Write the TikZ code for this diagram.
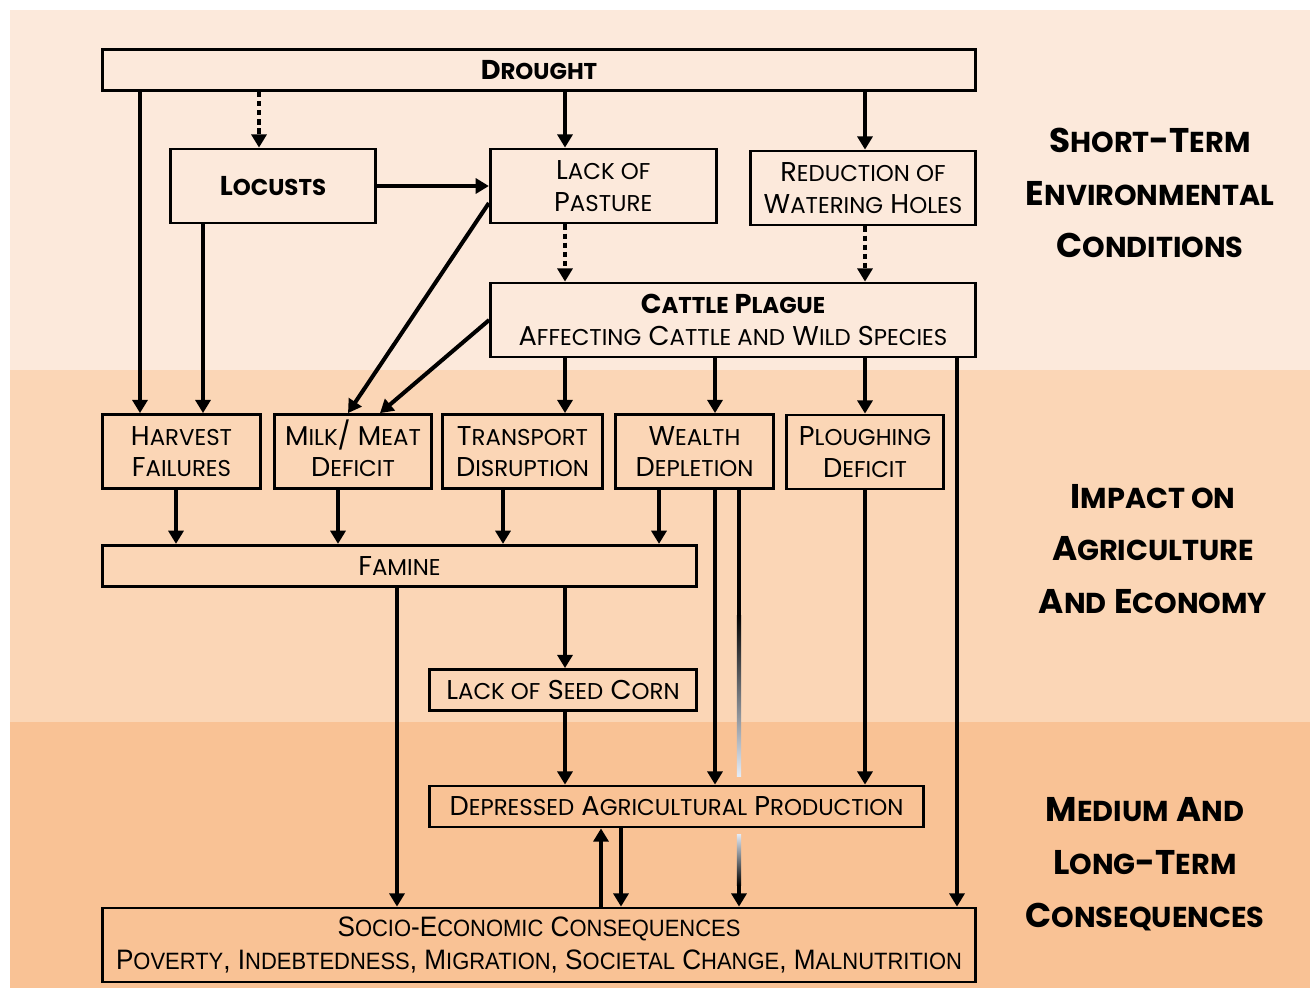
\documentclass[tikz,border=0pt]{standalone}
\usepackage{fontspec}
\setmainfont{Poppins}
\newfontfamily\estreita[FakeStretch=0.93]{Liberation Sans}
\usetikzlibrary{arrows.meta}
\usetikzlibrary{positioning}
\definecolor{faixaA}{HTML}{FCE9DB}
\definecolor{faixaB}{HTML}{FBD6B6}
\definecolor{faixaC}{HTML}{F9C295}
\definecolor{esmaecido}{HTML}{E4ECF7}
\makeatletter
\newcommand{\sm}[1]{{\fontsize{\fpeval{0.84*\f@size}}{\f@baselineskip}\selectfont #1}}
\makeatother
\tikzset{
  caixa/.style={draw, line width=1.6pt, align=center, minimum width=#1, minimum height=1.48cm, inner sep=2pt, font=\fontsize{15.5}{18}\selectfont},
  caixa/.default=3.2cm,
  barra/.style={caixa=#1, minimum height=0.82cm},
  titulo/.style={align=center, font=\bfseries\fontsize{19.5}{30}\selectfont},
  seta/.style={-{Triangle[length=7.5pt,width=8.5pt]}, line width=2.3pt},
  pontilhada/.style={seta, dash pattern=on 3pt off 2.2pt},
}

\begin{document}
\begin{tikzpicture}[x=0.02cm, y=-0.02cm, node distance=0.2cm]
  % faixas de fundo
  \useasboundingbox (0,0) rectangle (1310,988);
  \fill[faixaA] (10,10) rectangle (1310,370);
  \fill[faixaB] (10,370) rectangle (1310,722);
  \fill[faixaC] (10,722) rectangle (1310,988);

  % condicoes de curto prazo
  \node[barra=17.46cm, font=\bfseries\fontsize{15.5}{18}\selectfont] (drought) at (539,70) {D\sm{ROUGHT}};
  \node[caixa=4.1cm, font=\bfseries\fontsize{15.5}{18}\selectfont] (locusts) at (273,186) {L\sm{OCUSTS}};
  \node[caixa=4.52cm, right=2.24cm of locusts] (pasture) {L\sm{ACK OF}\\P\sm{ASTURE}};
  \node[caixa=4.5cm] (holes) at (863,188) {R\sm{EDUCTION OF}\\W\sm{ATERING} H\sm{OLES}};
  \node[caixa=9.7cm] (plague) at (733,320) {\textbf{C\sm{ATTLE} P\sm{LAGUE}}\\A\sm{FFECTING} C\sm{ATTLE AND} W\sm{ILD} S\sm{PECIES}};

  % impacto
  \node[caixa=3.16cm] (harvest) at (181.5,451.5) {H\sm{ARVEST}\\F\sm{AILURES}};
  \node[caixa=3.14cm] (milk) at (353,451.5) {M\sm{ILK}\smash{/} M\sm{EAT}\\D\sm{EFICIT}};
  \node[caixa=3.2cm] (transport) at (522.5,451.5) {T\sm{RANSPORT}\\D\sm{ISRUPTION}};
  \node[caixa=3.16cm] (wealth) at (694.5,451.5) {W\sm{EALTH}\\D\sm{EPLETION}};
  \node[caixa=3.14cm] (plough) at (865,452) {P\sm{LOUGHING}\\D\sm{EFICIT}};
  \node[barra=11.88cm, below=1.08cm of harvest.south west, anchor=north west] (famine) {F\sm{AMINE}};
  \node[barra=5.34cm] (seed) at (563,690) {L\sm{ACK OF} S\sm{EED} C\sm{ORN}};

  % consequencias
  \node[barra=9.88cm] (depressed) at (676.5,806.5) {D\sm{EPRESSED} A\sm{GRICULTURAL} P\sm{RODUCTION}};
  \node[caixa=17.46cm, font=\estreita\fontsize{16}{19}\selectfont] (socio) at (539,945)
    {S\sm{OCIO}-E\sm{CONOMIC} C\sm{ONSEQUENCES}\\P\sm{OVERTY}, I\sm{NDEBTEDNESS}, M\sm{IGRATION}, S\sm{OCIETAL} C\sm{HANGE}, M\sm{ALNUTRITION}};

  % rotulos das faixas
  \node[titulo] (tituloA) at (1150,193) {S\sm{HORT}-T\sm{ERM}\\E\sm{NVIRONMENTAL}\\C\sm{ONDITIONS}};
  \node[titulo] (tituloB) at (1153,549) {I\sm{MPACT ON}\\A\sm{GRICULTURE}\\A\sm{ND} E\sm{CONOMY}};
  \node[titulo] (tituloC) at (1145,864) {M\sm{EDIUM} A\sm{ND}\\L\sm{ONG}-T\sm{ERM}\\C\sm{ONSEQUENCES}};

  % colunas das setas
  \foreach \x in {140,176,203,259,338,397,503,565,601,621,659,715,739,865,957}
    \coordinate (k\x) at (\x,0);
  \coordinate (fadeA) at (739,615);
  \coordinate (fadeB) at (739,776);
  \coordinate (fadeC) at (739,834);
  \coordinate (fadeD) at (739,885);

  \draw[seta] (drought.south -| k140) -- (harvest.north -| k140);
  \draw[pontilhada] (drought.south -| k259) -- (locusts.north -| k259);
  \draw[seta] (drought.south -| k565) -- (pasture.north -| k565);
  \draw[seta] (drought.south -| k865) -- (holes.north -| k865);
  \draw[seta] (locusts) -- (pasture);
  \draw[seta] (locusts.south -| k203) -- (harvest.north -| k203);
  \draw[pontilhada] (pasture.south -| k565) -- (plague.north -| k565);
  \draw[pontilhada] (holes.south -| k865) -- (plague.north -| k865);
  \draw[seta] ([yshift=-0.34cm]pasture.west) -- ([xshift=-0.1cm]milk.north);
  \draw[seta] (plague.west) -- ([xshift=0.54cm]milk.north);
  \draw[seta] (plague.south -| k565) -- (transport.north -| k565);
  \draw[seta] (plague.south -| k715) -- (wealth.north -| k715);
  \draw[seta] (plague.south -| k865) -- (plough.north -| k865);
  \draw[seta] (plague.south -| k957) -- (socio.north -| k957);
  \foreach \a/\c in {harvest/176, milk/338, transport/503, wealth/659}
    \draw[seta] (\a.south -| k\c) -- (famine.north -| k\c);
  \draw[seta] (famine.south -| k397) -- (socio.north -| k397);
  \draw[seta] (famine.south -| k565) -- (seed.north -| k565);
  \draw[seta] (seed.south -| k565) -- (depressed.north -| k565);
  \draw[seta] (wealth.south -| k715) -- (depressed.north -| k715);
  \draw[seta] (plough.south -| k865) -- (depressed.north -| k865);
  \draw[seta] (socio.north -| k601) -- (depressed.south -| k601);
  \draw[seta] (depressed.south -| k621) -- (socio.north -| k621);
  % seta que some atras da producao
  \draw[line width=2.3pt] (wealth.south -| fadeA) -- (fadeA);
  \shade[top color=black, bottom color=esmaecido] ([xshift=-1.15pt]fadeA) rectangle ([xshift=1.15pt]fadeB);
  \shade[top color=esmaecido, bottom color=black] ([xshift=-1.15pt]fadeC) rectangle ([xshift=1.15pt]fadeD);
  \draw[seta] (fadeD) -- (socio.north -| fadeD);
\end{tikzpicture}
\end{document}
